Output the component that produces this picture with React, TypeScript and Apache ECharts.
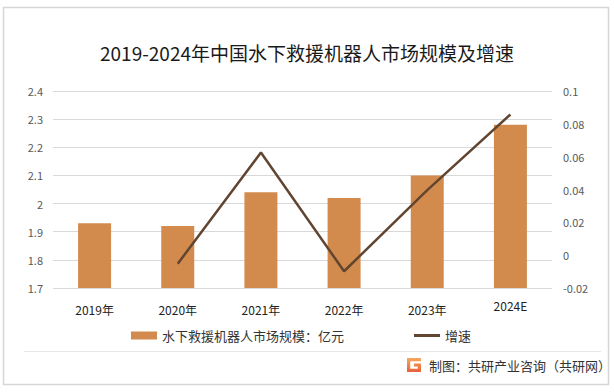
import React, { useEffect, useRef } from "react";
import * as echarts from "echarts";

const categories = ["2019年", "2020年", "2021年", "2022年", "2023年", "2024E"];
const marketSize = [1.93, 1.92, 2.04, 2.02, 2.1, 2.28];
const growth = [null, -0.0052, 0.0625, -0.0098, 0.0396, 0.0857];
const leftTicks = { min: 1.7, max: 2.4, interval: 0.1 };
const rightTicks = { min: -0.02, max: 0.1, interval: 0.02 };
const barName = "水下救援机器人市场规模：亿元";
const lineName = "增速";
const titleText = "2019-2024年中国水下救援机器人市场规模及增速";
const sourceText = "制图：共研产业咨询（共研网）";

echarts.graphic.registerShape(
  "logo",
  echarts.graphic.extendPath("M0,0H14V3.2H3.2V10.8H10.8V8.6H7V5.4H14V14H0Z", {})
);

export default function App() {
  const ref = useRef<HTMLDivElement>(null);
  useEffect(() => {
    document.body.style.margin = "0";
    const chart = echarts.init(ref.current!, null, { renderer: "svg" });
    chart.setOption({
      animation: false,
      backgroundColor: "#ffffff",
      title: {
        text: titleText,
        left: "center",
        top: 38,
        textStyle: {
          fontFamily: "Noto Sans CJK SC",
          fontSize: 19,
          fontWeight: "normal",
          color: "#1a1a1a",
        },
      },
      grid: { left: 53, right: 62, top: 91, bottom: 104 },
      legend: {
        left: 126,
        top: 324,
        itemGap: 70,
        itemWidth: 26,
        itemHeight: 8,
        itemTextGap: 4,
        textStyle: { fontFamily: "Noto Sans CJK SC", fontSize: 13, color: "#333" },
        data: [
          { name: barName, icon: "rect" },
          { name: lineName, icon: "path://M0,0H26V3H0Z" },
        ],
      },
      xAxis: {
        type: "category",
        data: categories,
        axisLine: { show: false },
        axisTick: { show: false },
        axisLabel: {
          margin: 11,
          fontFamily: "Noto Sans CJK SC",
          fontSize: 12,
          color: "#222",
          formatter: (v: string) => (v === "2024E" ? "{e|" + v + "}" : "{n|" + v + "}"),
          rich: {
            n: { padding: [4, 0, 0, 0], fontSize: 12, color: "#222", fontFamily: "Noto Sans CJK SC" },
            e: { fontSize: 12, color: "#222", fontFamily: "Noto Sans CJK SC" },
          },
        },
      },
      yAxis: [
        {
          type: "value",
          ...leftTicks,
          axisLine: { show: false },
          axisTick: { show: false },
          splitLine: { lineStyle: { color: "#d9d9d9", width: 1 } },
          axisLabel: {
            margin: 10,
            fontFamily: "Noto Sans CJK SC",
            fontSize: 11,
            color: "#595959",
            formatter: (v: number) => String(Math.round(v * 10) / 10),
          },
        },
        {
          type: "value",
          ...rightTicks,
          axisLine: { show: false },
          axisTick: { show: false },
          splitLine: { show: false },
          axisLabel: {
            margin: 11,
            fontFamily: "Noto Sans CJK SC",
            fontSize: 11,
            color: "#595959",
            formatter: (v: number) => String(Math.round(v * 100) / 100),
          },
        },
      ],
      series: [
        {
          name: barName,
          type: "bar",
          data: marketSize,
          barWidth: 33,
          itemStyle: { color: "#D38B4D" },
        },
        {
          name: lineName,
          type: "line",
          yAxisIndex: 1,
          data: growth,
          symbol: "none",
          lineStyle: { color: "#614530", width: 2.5 },
          itemStyle: { color: "#614530" },
        },
      ],
      graphic: [
        {
          type: "rect",
          shape: { x: 3.5, y: 7.5, width: 605, height: 377 },
          style: { fill: "none", stroke: "#d6d6d6", lineWidth: 1.5 },
          silent: true,
        },
        {
          type: "line",
          shape: { x1: 24, y1: 351.5, x2: 601, y2: 351.5 },
          style: { stroke: "#e6e6e6", lineWidth: 1 },
          silent: true,
        },
        {
          type: "logo",
          x: 407,
          y: 358,
          scaleX: 1,
          scaleY: 1,
          style: {
            fill: new echarts.graphic.LinearGradient(0, 0, 0, 1, [
              { offset: 0, color: "#F6A85E" },
              { offset: 1, color: "#E8603A" },
            ]),
          },
        },
        {
          type: "text",
          x: 429,
          y: 365,
          style: {
            text: sourceText,
            fontFamily: "Noto Sans CJK SC",
            fontSize: 13,
            fill: "#333",
            verticalAlign: "middle",
          },
        },
      ],
    });
    return () => chart.dispose();
  }, []);
  return <div ref={ref} style={{ width: 614, height: 392 }} />;
}
